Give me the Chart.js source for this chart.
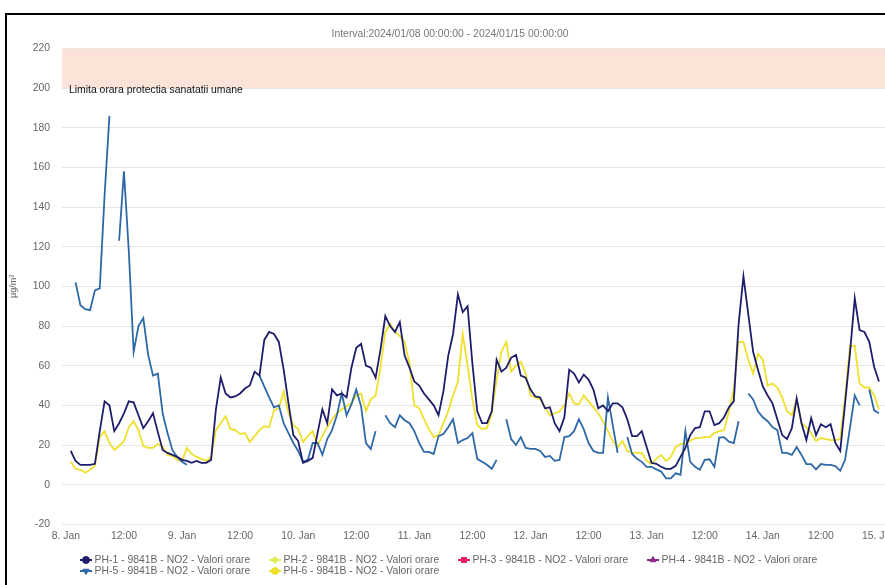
<!DOCTYPE html>
<html>
<head>
<meta charset="utf-8">
<script src="https://cdn.jsdelivr.net/npm/chart.js@4.4.1/dist/chart.umd.min.js"></script>
<style>
  html, body { margin: 0; padding: 0; background: #fff; }
  #wrap { position: relative; width: 885px; height: 585px; overflow: hidden; }
  #frame { position: absolute; left: 5px; top: 13px; right: -5px; bottom: -5px;
           border-left: 2px solid #000; border-top: 2px solid #000; pointer-events: none; }
  canvas { position: absolute; left: 0; top: 0; }
</style>
</head>
<body>
<div id="wrap">
  <canvas id="chart" width="902" height="585"></canvas>
  <div id="frame"></div>
</div>
<script>
// hourly values, index = hours since 2024/01/08 00:00 (0..168)
const ph1 = [
  null, 17, 12, 10, 10, 10, 10.5, 27, 42, 40, 27, 31,
  36, 42, 41.5, 35, 28.5, 32, 36, 26.5, 17.5, 16, 15, 14,
  12.5, 12, 11, 12, 11, 11, 12.5, 38, 54, 46, 44, 44.5,
  46, 48.5, 50, 57, 55, 73, 77, 76, 72, 58, 41, 25,
  22, 11, 12, 13.5, 26, 38, 31, 48, 45, 46, 44, 59,
  69, 71, 60, 59, 54, 68, 85, 80, 77, 82, 65, 59,
  52, 50, 46, 43, 40, 35, 47, 65, 76, 96, 87, 90,
  61, 37, 31, 31, 37, 63, 57, 59, 64, 65.5, 55, 54,
  48, 44.5, 44, 38.5, 39, 31, 27, 34, 58, 56, 51.5, 55.5,
  53, 48, 38.5, 40, 37, 41, 41, 39, 33, 24.5, 24.5, 27,
  19, 11, 10.5, 9, 8, 8, 9.5, 14, 18.5, 25, 28.5, 29,
  37, 37, 30, 31, 34, 39, 42, 81, 105, 86, 67, 58,
  49.5, 45, 41, 33, 25, 23, 28.5, 43.5, 31, 22.5, 33.5, 25,
  30.5, 29, 30.5, 21, 17, 41, 66, 94, 78, 77, 72, 59.5,
  52
];
const ph2 = [];
const ph3 = [];
const ph4 = [];
const ph5 = [
  null, null, 102, 90.5, 88.5, 88, 98, 99, 146, 186, null, 123,
  158, 118, 67, 80, 84, 65.5, 55, 56, 36, 26, 17.5, 14,
  11.5, 10, null, null, null, null, null, null, null, null, null, null,
  null, null, null, null, 55, 49.5, 44, 39, 40, 31, 26, 21,
  17, 11.5, 12.5, 21, 21, 15, 23, 27.5, 35, 46, 35, 40.5,
  48, 39.5, 21, 18, 27, null, 35, 31, 29, 35, 32.5, 31,
  27, 21, 16.5, 16.5, 15.5, 24.5, 25.5, 29, 33, 21, 22.5, 23.5,
  26, 13, 11.5, 10, 8, 12.5, null, 33, 23, 20, 24, 18.5,
  18, 18, 17, 14, 14.5, 12, 12.5, 24, 24.5, 27, 33, 28,
  21, 17, 16, 16, 44, 30, 16, null, 24, 15.5, 13, 11.5,
  9, 9, 7.7, 6.6, 3.2, 3.2, 5.7, 5, 27, 11.5, 9, 7.5,
  12.5, 12.8, 9, 23.7, 24, 21.7, 21, 32, null, 46, 43, 37,
  34, 32, 29, 27.5, 16, 16, 15, 19, 15, 10.4, 10.4, 7.7,
  10.4, 10, 10, 9.4, 7, 12.5, 28.5, 45, 40, null, 48, 37.5,
  36
];
const ph6 = [
  null, 11.5, 8, 7.5, 6, 7.5, 9.5, 24, 27, 21, 17.5, 19.5,
  22, 29, 32, 27.5, 19.5, 18.5, 18.5, 20.5, 19, 15, 14.5, 12.5,
  12, 18.5, 15.5, 14, 13, 12, 14, 27.5, 31, 34.5, 28, 27.5,
  25.5, 26, 21.5, 24.5, 27.5, 29.5, 29, 37.5, 38.5, 47, 36, 30,
  28, 21.5, 24.5, 27, 20, 24.5, 29, 33, 36, 38, 39.5, 41,
  45, 46, 37, 43, 45, 59, 77, 81, 77, 75, 72, 61,
  40, 38.5, 33, 28, 24, 25, 31, 37, 45, 52, 76, 60,
  43, 30, 28, 28.5, 36, 53, 67, 72, 57, 60, 62, 56,
  45, 44, 43, 39, 35, 36, 37, 40, 46, 41, 40.5, 45,
  42, 39, 36, 32, 27, 22, 19, 22, 17, 16, 16, 16,
  12, 10.5, 13, 15, 12, 14, 19, 20.5, 21, 22, 23.5, 23.5,
  24, 24, 26, 27, 27.5, 37, 48, 72, 72, 63, 56, 66,
  63, 50, 51, 49, 44, 37, 35, 43, 31, 29, 26, 22,
  23.5, 23, 22.5, 22.5, 23, 44, 70, 70, 51, 49, 49, 45,
  38
];

const seriesNames = [
  'PH-1 - 9841B - NO2 - Valori orare',
  'PH-2 - 9841B - NO2 - Valori orare',
  'PH-3 - 9841B - NO2 - Valori orare',
  'PH-4 - 9841B - NO2 - Valori orare',
  'PH-5 - 9841B - NO2 - Valori orare',
  'PH-6 - 9841B - NO2 - Valori orare'
];
const tickHours = [0, 12, 24, 36, 48, 60, 72, 84, 96, 108, 120, 132, 144, 156, 168];
const tickLabels = ['8. Jan', '12:00', '9. Jan', '12:00', '10. Jan', '12:00', '11. Jan', '12:00',
  '12. Jan', '12:00', '13. Jan', '12:00', '14. Jan', '12:00', '15. Jan'];
const limitBand = [200, 220];
const limitLabel = 'Limita orara protectia sanatatii umane';
const chartTitle = 'Interval:2024/01/08 00:00:00 - 2024/01/15 00:00:00';

const FONT = '"Liberation Sans", Arial, Helvetica, sans-serif';
Chart.defaults.font.family = FONT;
Chart.defaults.font.size = 10.4;

const toPoints = arr => arr.map((v, i) => ({ x: i, y: v }));

function makeSet(idx, data, color, style, rot) {
  return {
    label: seriesNames[idx],
    data: toPoints(data),
    borderColor: color,
    backgroundColor: color,
    borderWidth: 1.8,
    pointRadius: 0,
    pointStyle: style,
    pointRotation: rot || 0,
    tension: 0,
    spanGaps: false
  };
}

const decorations = {
  id: 'decorations',
  beforeDatasetsDraw(chart) {
    const { ctx, chartArea, scales: { y } } = chart;
    const top = y.getPixelForValue(limitBand[1]);
    const bottom = y.getPixelForValue(limitBand[0]);
    ctx.save();
    ctx.fillStyle = '#fbe3d8';
    ctx.fillRect(chartArea.left, top, chartArea.right - chartArea.left, bottom - top);
    ctx.fillStyle = '#111';
    ctx.font = '10.4px ' + FONT;
    ctx.textBaseline = 'middle';
    ctx.textAlign = 'left';
    ctx.fillText(limitLabel, chartArea.left + 7, bottom + 2);
    ctx.restore();
  },
  afterDraw(chart) {
    const ctx = chart.ctx;
    ctx.save();
    ctx.font = '10.4px ' + FONT;
    ctx.fillStyle = '#777';
    ctx.textAlign = 'center';
    ctx.textBaseline = 'middle';
    ctx.fillText(chartTitle, 450, 34);

    // legend: 4 columns, left aligned rows
    const cols = [80, 269, 458, 647];
    const rows = [560, 571];
    ctx.textAlign = 'left';
    chart.data.datasets.forEach((ds, i) => {
      const x = cols[i % 4];
      const yy = rows[Math.floor(i / 4)];
      ctx.strokeStyle = ds.borderColor;
      ctx.fillStyle = ds.borderColor;
      ctx.lineWidth = 2;
      ctx.beginPath();
      ctx.moveTo(x, yy);
      ctx.lineTo(x + 12, yy);
      ctx.stroke();
      ctx.lineWidth = 1;
      if (Chart.helpers && Chart.helpers.drawPoint) {
        Chart.helpers.drawPoint(ctx, { pointStyle: ds.pointStyle, rotation: ds.pointRotation, radius: 3.5, borderWidth: 1 }, x + 6, yy);
      } else {
        ctx.beginPath();
        ctx.arc(x + 6, yy, 3.5, 0, Math.PI * 2);
        ctx.fill();
      }
      ctx.fillStyle = '#666';
      ctx.fillText(ds.label, x + 14.5, yy);
    });
    ctx.restore();
  }
};

new Chart(document.getElementById('chart'), {
  type: 'line',
  data: {
    datasets: [
      makeSet(0, ph1, '#1d1d6c', 'circle'),
      makeSet(1, ph2, '#e1ee5a', 'rectRot'),
      makeSet(2, ph3, '#e61e5c', 'rect'),
      makeSet(3, ph4, '#8c2a8c', 'triangle'),
      makeSet(4, ph5, '#2f68a6', 'triangle', 180),
      makeSet(5, ph6, '#efe02e', 'circle')
    ]
  },
  options: {
    responsive: false,
    animation: false,
    devicePixelRatio: 1,
    layout: { autoPadding: false, padding: { top: 48.5, bottom: 36.7, left: 0, right: 0 } },
    plugins: {
      legend: { display: false },
      title: { display: false },
      tooltip: { enabled: false }
    },
    scales: {
      x: {
        type: 'linear',
        min: -0.8,
        max: 172,
        grid: { display: false, drawTicks: false },
        border: { display: false },
        afterBuildTicks: s => { s.ticks = tickHours.map(v => ({ value: v })); },
        ticks: {
          autoSkip: false,
          maxRotation: 0,
          padding: 6,
          color: '#666',
          callback: (v, i) => tickLabels[i]
        },
        afterFit: s => { s.height = 24; }
      },
      y: {
        min: -20,
        max: 220,
        ticks: { stepSize: 20, padding: 12, color: '#666' },
        grid: { color: '#e6e6e6', drawTicks: false },
        border: { display: false },
        title: { display: true, text: 'µg/m³', color: '#666', font: { size: 9 }, padding: { top: 8, bottom: 0 } },
        afterFit: s => { s.width = 62; }
      }
    }
  },
  plugins: [decorations]
});
</script>
</body>
</html>
